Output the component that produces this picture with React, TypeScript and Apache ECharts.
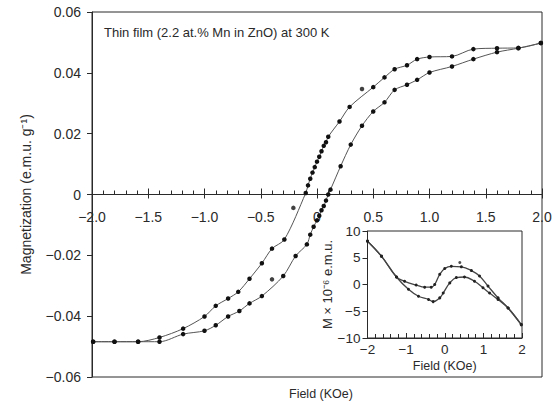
import React, { useEffect, useRef } from "react";
import * as echarts from "echarts";

// Main hysteresis loop: descending (upper) branch, field in kOe, magnetization in e.m.u./g
const upperField = [1.99, 1.79, 1.60, 1.39, 1.20, 1.00, 0.89, 0.80, 0.69, 0.60, 0.50, 0.29, 0.20, 0.10, 0.08, 0.06, 0.04, 0.02, 0.00, -0.02, -0.04, -0.06, -0.08, -0.10, -0.29, -0.40, -0.49, -0.60, -0.70, -0.79, -0.90, -1.00, -1.19, -1.40, -1.59, -1.80, -1.99];
const upperMag = [0.0498, 0.0482, 0.0481, 0.0478, 0.0454, 0.0452, 0.0445, 0.0425, 0.0412, 0.0385, 0.0353, 0.0288, 0.0240, 0.0190, 0.0172, 0.0160, 0.0142, 0.0124, 0.0108, 0.0090, 0.0072, 0.0052, 0.0030, 0.0005, -0.0148, -0.0178, -0.0226, -0.0277, -0.0320, -0.0342, -0.0366, -0.0401, -0.0441, -0.0470, -0.0484, -0.0484, -0.0484];

// Ascending (lower) branch
const lowerField = [-1.99, -1.80, -1.59, -1.40, -1.19, -1.00, -0.90, -0.79, -0.69, -0.60, -0.49, -0.30, -0.19, -0.09, -0.06, -0.03, 0.00, 0.02, 0.04, 0.06, 0.08, 0.10, 0.12, 0.21, 0.30, 0.40, 0.50, 0.60, 0.69, 0.80, 0.89, 1.00, 1.20, 1.39, 1.60, 1.79, 1.99];
const lowerMag = [-0.0484, -0.0484, -0.0484, -0.0484, -0.0459, -0.0448, -0.0430, -0.0401, -0.0383, -0.0358, -0.0334, -0.0268, -0.0202, -0.0164, -0.0132, -0.0106, -0.0085, -0.0070, -0.0052, -0.0038, -0.0020, 0.0000, 0.0016, 0.0093, 0.0164, 0.0226, 0.0273, 0.0303, 0.0344, 0.0361, 0.0377, 0.0401, 0.0421, 0.0445, 0.0468, 0.0481, 0.0498];

// Scattered measurement points lying off the fitted curves
const offField = [0.40, -0.21, -0.40];
const offMag = [0.0347, -0.0044, -0.0279];

// Inset: M x 1e-6 e.m.u. versus field (kOe)
const insetUpField = [-2.0, -1.64, -1.25, -1.04, -0.74, -0.52, -0.35, -0.26, -0.13, 0.0, 0.17, 0.43, 0.69, 0.90, 1.12, 1.38, 1.64, 1.98];
const insetUpM = [8.1, 5.3, 1.4, 0.6, -0.1, -0.5, -0.5, 0.0, 1.9, 3.0, 3.4, 3.3, 2.6, 1.6, -0.3, -2.5, -4.4, -7.5];
const insetLoField = [-2.0, -1.64, -1.25, -0.94, -0.68, -0.42, -0.30, -0.13, -0.04, 0.13, 0.30, 0.51, 0.77, 0.99, 1.16, 1.38, 1.64, 1.98];
const insetLoM = [8.1, 5.3, 1.4, -0.9, -2.2, -2.8, -3.2, -2.5, -1.6, 0.3, 1.3, 1.4, 0.6, -0.6, -1.6, -2.8, -4.4, -7.5];
const insetOffField = [0.39];
const insetOffM = [4.1];

const mainTitle = "Thin film (2.2 at.% Mn in ZnO) at 300 K";
const mainXName = "Field (KOe)";
const mainYName = "Magnetization (e.m.u. g⁻¹)";
const insetXName = "Field (KOe)";
const insetYName = "M × 10⁻⁶ e.m.u.";

const FONT = "'Liberation Sans', Arial, sans-serif";
const INK = "#2a2a2a";

// main plot area
const MAIN_TOP = 12;
const MAIN_H = 365;
// distance from the bottom edge up to the M = 0 line (symmetric y range)
const ZERO_SHIFT = -MAIN_H / 2;

const zip = (a: number[], b: number[]) => a.map((v, i) => [v, b[i]]);

export default function App() {
  const ref = useRef<HTMLDivElement>(null);
  useEffect(() => {
    if (!ref.current) return;
    const chart = echarts.init(ref.current, undefined, { renderer: "svg" });
    const fmtMain = (v: number) => {
      if (Math.abs(v) < 1e-9) return "0";
      const s = Math.abs(v).toFixed(2);
      return v < 0 ? "−" + s : s;
    };
    const fmtX = (v: number) => {
      if (Math.abs(v) < 1e-9) return "0";
      const s = Math.abs(v).toFixed(1);
      return v < 0 ? "−" + s : s;
    };
    const fmtInt = (v: number) => (v < 0 ? "−" + Math.abs(v) : String(v));
    chart.setOption({
      animation: false,
      textStyle: { fontFamily: FONT, color: INK },
      grid: [
        { left: 92, top: MAIN_TOP, right: 16, height: MAIN_H, show: true, borderColor: INK, borderWidth: 1, backgroundColor: "transparent" },
        { left: 367.5, top: 231, width: 154.5, height: 107, show: true, borderColor: INK, borderWidth: 1, backgroundColor: "#fff" },
      ],
      xAxis: [
        {
          type: "value", gridIndex: 0, min: -2, max: 2, interval: 0.5, position: "bottom", offset: ZERO_SHIFT,
          axisLine: { onZero: false, lineStyle: { color: INK, width: 1 } },
          axisTick: { inside: true, length: 6, lineStyle: { color: INK } },
          minorTick: { show: true, splitNumber: 5, length: 4, lineStyle: { color: INK } },
          splitLine: { show: false },
          axisLabel: { fontSize: 14, color: INK, margin: 15, formatter: fmtX, fontFamily: FONT },
        },
        {
          type: "value", gridIndex: 0, min: -2, max: 2, interval: 0.5, position: "top", offset: ZERO_SHIFT,
          axisLine: { onZero: false, lineStyle: { color: INK, width: 1 } },
          axisTick: { inside: true, length: 4, lineStyle: { color: INK } },
          splitLine: { show: false },
          axisLabel: { show: false },
        },
        {
          type: "value", gridIndex: 1, min: -2, max: 2, interval: 1,
          axisLine: { onZero: false, lineStyle: { color: INK, width: 1 } },
          axisTick: { inside: true, length: 5, lineStyle: { color: INK } },
          minorTick: { show: true, splitNumber: 5, length: 4, lineStyle: { color: INK } },
          splitLine: { show: false },
          axisLabel: { fontSize: 13.5, color: INK, margin: 4, formatter: fmtInt, fontFamily: FONT },
          name: insetXName, nameLocation: "middle", nameGap: 21,
          nameTextStyle: { fontSize: 12.5, color: INK, fontFamily: FONT },
        },
      ],
      yAxis: [
        {
          type: "value", gridIndex: 0, min: -0.06, max: 0.06, interval: 0.02,
          axisLine: { onZero: false, lineStyle: { color: INK, width: 1 } },
          axisTick: { inside: false, length: 5, lineStyle: { color: INK } },
          splitLine: { show: false },
          axisLabel: { fontSize: 14, color: INK, margin: 11, formatter: fmtMain, fontFamily: FONT },
          name: mainYName, nameLocation: "middle", nameGap: 59, nameRotate: 90,
          nameTextStyle: { fontSize: 14, color: INK, fontFamily: FONT },
        },
        {
          type: "value", gridIndex: 1, min: -10, max: 10, interval: 5,
          axisLine: { onZero: false, lineStyle: { color: INK, width: 1 } },
          axisTick: { inside: false, length: 5, lineStyle: { color: INK } },
          splitLine: { show: false },
          axisLabel: { fontSize: 13.5, color: INK, margin: 7, formatter: fmtInt, fontFamily: FONT },
          name: insetYName, nameLocation: "middle", nameGap: 29, nameRotate: 90,
          nameTextStyle: { fontSize: 13, color: INK, fontFamily: FONT },
        },
      ],
      graphic: [
        { type: "text", left: 104, top: 26, style: { text: mainTitle, font: `13px ${FONT}`, fill: INK } },
        { type: "text", left: 289, top: 387, style: { text: mainXName, font: `12.5px ${FONT}`, fill: INK } },
      ],
      series: [
        {
          type: "line", xAxisIndex: 0, yAxisIndex: 0, data: zip(upperField, upperMag), smooth: 0.3,
          lineStyle: { color: "#555", width: 1 }, symbol: "circle", symbolSize: 4.5,
          itemStyle: { color: "#111" },
        },
        {
          type: "line", xAxisIndex: 0, yAxisIndex: 0, data: zip(lowerField, lowerMag), smooth: 0.3,
          lineStyle: { color: "#555", width: 1 }, symbol: "circle", symbolSize: 4.5,
          itemStyle: { color: "#111" },
        },
        {
          type: "scatter", xAxisIndex: 0, yAxisIndex: 0, data: zip(offField, offMag),
          symbol: "circle", symbolSize: 4.5, itemStyle: { color: "#111" },
        },
        {
          type: "line", xAxisIndex: 2, yAxisIndex: 1, data: zip(insetUpField, insetUpM), smooth: 0.4,
          lineStyle: { color: "#444", width: 1.3 }, symbol: "circle", symbolSize: 3,
          itemStyle: { color: "#222" },
        },
        {
          type: "line", xAxisIndex: 2, yAxisIndex: 1, data: zip(insetLoField, insetLoM), smooth: 0.4,
          lineStyle: { color: "#444", width: 1.3 }, symbol: "circle", symbolSize: 3,
          itemStyle: { color: "#222" },
        },
        {
          type: "scatter", xAxisIndex: 2, yAxisIndex: 1, data: zip(insetOffField, insetOffM),
          symbol: "circle", symbolSize: 3, itemStyle: { color: "#222" },
        },
      ],
    });
    return () => chart.dispose();
  }, []);
  return <div ref={ref} style={{ position: "fixed", left: 0, top: 0, width: 558, height: 405, background: "#fff" }} />;
}
